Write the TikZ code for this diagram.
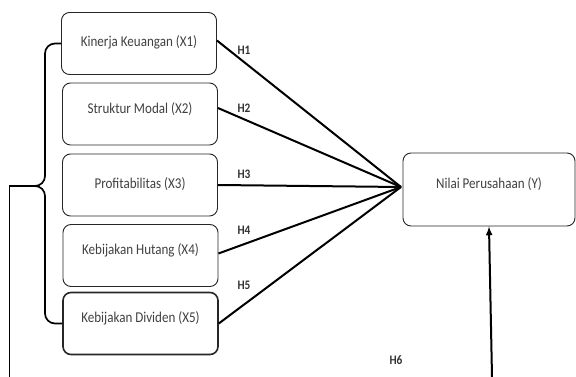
\documentclass[tikz,border=0pt]{standalone}
\usepackage{fontspec}
\setmainfont{Carlito}[FakeStretch=0.87]
\usepackage{tikz}
\usetikzlibrary{arrows,shapes}
\tikzstyle{var}=[draw=black!85,line width=.9pt,rounded corners=8pt,minimum width=155pt,minimum height=62pt,text=black!75,font=\fontsize{15}{17}\selectfont,text depth=12pt,inner sep=0pt]
\tikzstyle{hyp}=[line width=2pt,black]
\tikzstyle{hlab}=[font=\bfseries\fontsize{13}{14}\selectfont,text=black!80,inner sep=1pt]

\begin{document}
\begin{tikzpicture}[x=1pt,y=-1pt]
	\useasboundingbox (0,0) rectangle (576,377);

	% variables
	\node[var,text depth=4pt] (x1) at (139,43.5) {Kinerja Keuangan (X1)};
	\node[var] (x2) at (140,114) {Struktur Modal (X2)};
	\node[var,text depth=4pt] (x3) at (140,185) {Profitabilitas (X3)};
	\node[var] (x4) at (140.5,255.5) {Kebijakan Hutang (X4)};
	\node[var,line width=1.6pt] (x5) at (140.5,323.5) {Kebijakan Dividen (X5)};
	\node[var,minimum width=172pt,minimum height=73pt] (y) at (489,189.5) {Nilai Perusahaan (Y)};

	%hypotheses
	\coordinate (conv) at (401,187);
	\draw[hyp] ([yshift=3pt]x1.east) -- (conv);
	\draw[hyp] ([yshift=6pt]x2.east) -- (conv);
	\draw[hyp] (x3.east) -- (conv);
	\draw[hyp] ([yshift=2pt]x4.east) -- (conv);
	\draw[hyp] (x5.east) -- (conv);

	\node[hlab] (h1) at (244,50) {H1};
	\node[hlab] (h2) at (244,108) {H2};
	\node[hlab] (h3) at (244,174) {H3};
	\node[hlab] (h4) at (244,230) {H4};
	\node[hlab] (h5) at (244,285) {H5};
	\node[hlab] (h6) at (396,360) {H6};

	%brace and simultaneous path
	\coordinate (tip) at (31,186);
	\coordinate (bl) at (9.5,377);
	\coordinate (br) at (492,377);
	\draw[line width=1.7pt,rounded corners=10pt] (x1.west) -- (45,43.5) -- (45,186) -- (tip);
	\draw[line width=1.7pt,rounded corners=10pt] (tip) -- (45,186) -- (45,323.5) -- (x5.west);
	\draw[line width=1.7pt] (tip) -- (9.5,186) -- (bl);
	\draw[hyp,-latex] (br) -- (y.south);
\end{tikzpicture}
\end{document}
